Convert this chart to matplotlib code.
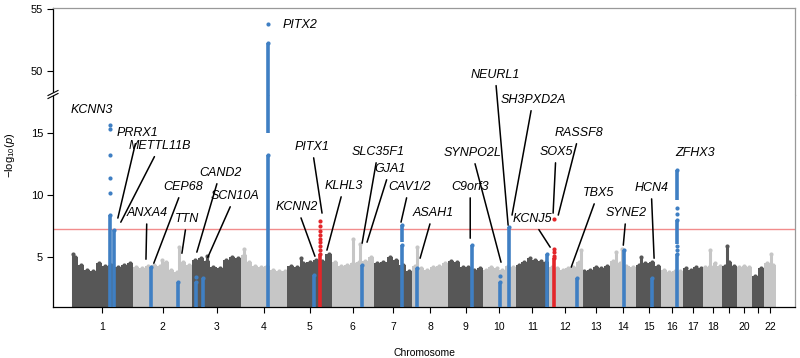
import numpy as np
import matplotlib.pyplot as plt
from matplotlib.lines import Line2D
from matplotlib.patches import Polygon

plt.rcParams["font.family"] = ["Liberation Sans", "DejaVu Sans"]
plt.rcParams["mathtext.fontset"] = "custom"
plt.rcParams["mathtext.rm"] = "Liberation Sans"
plt.rcParams["mathtext.it"] = "Liberation Sans:italic"

# chromosome layout (Mb)
chrom_labels = ["1", "2", "3", "4", "5", "6", "7", "8", "9", "10", "11",
                "12", "13", "14", "15", "16", "17", "18", "", "20", "", "22"]
chrom_len = np.array([249.3, 243.2, 198.0, 191.2, 180.9, 171.1, 159.1, 146.4,
                      141.2, 135.5, 135.0, 133.9, 115.2, 107.3, 102.5, 90.4,
                      81.2, 78.1, 59.1, 63.0, 48.1, 51.3])

# rough upper edge of the background point cloud, per chromosome
bg_heights = [
    [5.0, 4.4, 4.0, 3.9, 4.5, 4.3, 4.4, 4.2, 4.4, 4.5],
    [4.2, 4.1, 4.3, 4.4, 4.3, 4.6, 4.0, 3.8, 4.6, 4.4],
    [4.8, 4.9, 4.7, 4.2, 4.1, 4.8, 5.0, 4.9],
    [5.2, 4.6, 4.3, 4.2, 4.3, 4.0, 3.9, 3.9],
    [4.3, 4.2, 4.5, 4.6, 4.8, 4.7, 5.3],
    [4.6, 4.3, 4.4, 4.5, 4.6, 4.7, 5.0],
    [4.5, 4.6, 5.0, 4.8, 4.4, 3.9],
    [4.3, 4.1, 4.0, 4.2, 4.3, 4.5],
    [4.7, 4.6, 4.2, 4.2, 4.0, 4.1],
    [4.0, 4.2, 4.1, 4.0, 4.3, 4.2],
    [4.4, 4.6, 4.9, 4.8, 4.7, 4.6],
    [4.2, 4.1, 4.0, 4.1, 4.2, 4.6],
    [3.9, 4.0, 4.2, 4.1, 4.3],
    [4.7, 4.5, 4.3, 4.2],
    [4.4, 4.5, 4.6, 4.3],
    [4.0, 3.8, 3.9, 3.9],
    [4.1, 4.0, 4.2, 4.1],
    [4.2, 4.3, 4.5, 4.3],
    [4.3, 4.6, 4.3],
    [4.2, 4.3, 4.2],
    [3.5, 4.1],
    [4.5, 4.4],
]

# isolated background spikes (chromosome index from 1, Mb, -log10 p)
peak_chrom = [1, 2, 2, 3, 4, 5, 6, 6, 8, 12, 14, 14, 15, 18, 19, 22]
peak_pos = [5, 190, 120, 60, 15, 55, 88, 117, 20, 130, 25, 50, 20, 30, 20, 30]
peak_val = [5.3, 5.8, 4.8, 5.1, 5.7, 4.9, 6.5, 6.1, 5.8, 5.6, 5.4, 5.7, 5.0, 5.6, 5.9, 5.3]

# highlighted loci
loci_chrom = [1, 1, 2, 2, 3, 3, 4, 5, 5, 6, 7, 8, 9, 10, 10, 11, 12, 12, 14, 15, 16]
loci_pos = [156, 172, 74, 186.6, 16.8, 43.4, 111.3, 110.5, 135, 122, 114.6,
            16.8, 95.3, 70.8, 105.6, 125.6, 21.3, 113.3, 58.5, 63.8, 63.8]
loci_new = [0, 0, 0, 0, 0, 0, 0, 0, 1, 0, 0, 0, 0, 0, 0, 0, 1, 0, 0, 0, 0]
loci_segments = [
    [(1, 8.4)], [(1, 7.2)], [(1, 4.2)], [(1, 3.0)], [(1, 3.0)], [(1, 3.3)],
    [(1, 13.2), (15.0, 18.2), (47.9, 52.3)], [(1, 3.6)], [(1, 5.3)],
    [(1, 4.4)], [(1, 6.0), (6.25, 7.6)], [(1, 4.1)], [(1, 6.0)], [(1, 3.0)],
    [(1, 7.4)], [(1, 5.3)], [(1, 4.9)], [(1, 3.3)], [(1, 5.6)], [(1, 3.3)],
    [(1, 5.3), (6.1, 8.0), (9.6, 12.0)],
]
loci_dots = [
    [10.2, 11.4, 13.2, 15.3, 15.6], [], [], [], [3.4], [], [53.8], [],
    [5.6, 5.9, 6.2, 6.5, 6.8, 7.1, 7.5, 7.9], [], [], [], [], [3.5], [], [],
    [5.1, 5.4, 5.7, 8.1], [], [], [], [5.6, 5.9, 8.5, 9.0],
]

threshold = 7.3

# gene labels: text position and connector end (cumulative Mb, -log10 p)
label_names = ["KCNN3", "PRRX1", "METTL11B", "CEP68", "ANXA4", "TTN", "CAND2",
               "SCN10A", "KCNN2", "PITX1", "KLHL3", "SLC35F1", "GJA1", "CAV1/2",
               "ASAH1", "SYNPO2L", "C9orf3", "NEURL1", "SH3PXD2A", "KCNJ5",
               "SOX5", "RASSF8", "TBX5", "SYNE2", "HCN4", "ZFHX3"]
label_x = [82, 270, 360, 454, 307, 471, 606, 667, 921, 982, 1113, 1252, 1301,
           1379, 1477, 1637, 1629, 1731, 1886, 1882, 1980, 2075, 2152, 2267,
           2369, 2549]
label_y = [16.86, 15.0, 13.95, 10.65, 8.55, 8.07, 11.78, 9.92, 9.03, 13.87,
           10.73, 13.47, 12.1, 10.65, 8.55, 13.39, 10.65, 19.68, 17.66, 8.07,
           13.47, 15.0, 10.16, 8.55, 10.57, 13.39]
line_x = [None, 188, 200, 335, 303, 450, 511, 556, 994, 1023, 1043, 1187, 1207,
          1346, 1424, 1755, 1629, 1784, 1800, 1956, 1968, 1989, 2042, 2255,
          2381, None]
line_y = [None, 8.15, 7.82, 4.52, 4.84, 5.32, 5.41, 5.0, 5.08, 8.55, 5.57,
          6.13, 6.21, 7.82, 4.92, 4.6, 6.53, 7.58, 8.39, 5.81, 8.55, 8.39,
          4.2, 5.97, 4.92, None]

DARK = "#575757"
LIGHT = "#c6c6c6"
BLUE = "#3f7fc3"
RED = "#e3262a"

offsets = np.concatenate([[0], np.cumsum(chrom_len)[:-1]])
centers = offsets + chrom_len / 2


def draw_points(ax):
    for i, h in enumerate(bg_heights):
        col = DARK if i % 2 == 0 else LIGHT
        n = len(h)
        w = chrom_len[i] / n
        xs = offsets[i] + w * (np.arange(n) + 0.5)
        ax.bar(xs, np.array(h) - 1, bottom=1, width=w, color=col,
               linewidth=0, zorder=1)
        ax.scatter(xs, h, s=9, color=col, linewidths=0, zorder=1)

    for c, p, v in zip(peak_chrom, peak_pos, peak_val):
        col = DARK if (c - 1) % 2 == 0 else LIGHT
        x = offsets[c - 1] + p
        ax.vlines(x, 1, v, color=col, lw=2.2, zorder=1.5)
        ax.scatter([x], [v], s=9, color=col, linewidths=0, zorder=1.5)

    for c, p, new, segs, dots in zip(loci_chrom, loci_pos, loci_new,
                                     loci_segments, loci_dots):
        col = RED if new else BLUE
        x = offsets[c - 1] + p
        for lo, hi in segs:
            ax.vlines(x, lo, hi, color=col, lw=2.6, zorder=3)
            ax.scatter([x], [hi], s=9, color=col, linewidths=0, zorder=3)
        if dots:
            ax.scatter([x] * len(dots), dots, s=9, color=col, linewidths=0,
                       zorder=3)


fig = plt.figure(figsize=(8, 3.58), dpi=100)
ax_top = fig.add_axes([0.066, 0.7346, 0.928, 0.2430])
ax_bot = fig.add_axes([0.066, 0.1425, 0.928, 0.5921])

xlim = (-78, 2958)
for ax in (ax_top, ax_bot):
    draw_points(ax)
    ax.set_xlim(*xlim)
    ax.spines["left"].set_color("black")
    ax.spines["right"].set_color("#999999")
    ax.spines["top"].set_color("#999999")
    ax.spines["bottom"].set_color("black")
    for s in ax.spines.values():
        s.set_linewidth(0.9)
    ax.tick_params(axis="y", direction="out", length=4, width=0.8,
                   labelsize=8, pad=3)

ax_top.set_ylim(48.05, 55.1)
ax_top.set_yticks([50, 55])
ax_top.spines["bottom"].set_visible(False)
ax_top.set_xticks([])

ax_bot.set_ylim(1.0, 18.05)
ax_bot.set_yticks([5, 10, 15])
ax_bot.spines["top"].set_visible(False)
ax_bot.axhline(threshold, color="#f28c8c", lw=1.0, zorder=2)
ax_bot.set_xticks(centers)
ax_bot.set_xticklabels(chrom_labels)
ax_bot.tick_params(axis="x", direction="out", length=4, width=0.8,
                   labelsize=7.5, pad=7)
ax_bot.set_xlabel("Chromosome", fontsize=7.5, labelpad=11)

# gene labels
for name, tx, ty, lx, ly in zip(label_names, label_x, label_y, line_x, line_y):
    if lx is None:
        ax_bot.text(tx, ty, name, ha="center", va="center", fontsize=9,
                    style="italic", clip_on=False)
    else:
        ax_bot.annotate(name, xy=(lx, ly), xytext=(tx, ty), ha="center",
                        va="center", fontsize=9, style="italic",
                        annotation_clip=False,
                        arrowprops=dict(arrowstyle="-", lw=1.1, color="black",
                                        shrinkA=1.5, shrinkB=0))
ax_top.text(863, 53.7, "PITX2", ha="left", va="center", fontsize=9,
            style="italic")

# axis break mark on the left spine
W, H = 800, 358
bx, by = 53, 95
poly = Polygon([((bx - 5) / W, 1 - (by + 3.5) / H), ((bx + 5) / W, 1 - (by - 1.5) / H),
                ((bx + 5) / W, 1 - (by - 4.5) / H), ((bx - 5) / W, 1 - (by + 0.5) / H)],
               closed=True, transform=fig.transFigure, facecolor="white",
               edgecolor="none", zorder=10)
fig.patches.append(poly)
for dy in (0.5, 3.5):
    fig.lines.append(Line2D([(bx - 5) / W, (bx + 5) / W],
                            [1 - (by + dy) / H, 1 - (by + dy - 5) / H],
                            transform=fig.transFigure, color="black", lw=0.8,
                            zorder=11))

fig.text(10 / W, 1 - 155 / H, r"$-\mathrm{log}_{10}(p)$", rotation=90,
         ha="center", va="center", fontsize=8)

fig.savefig("out.png", dpi=100)
